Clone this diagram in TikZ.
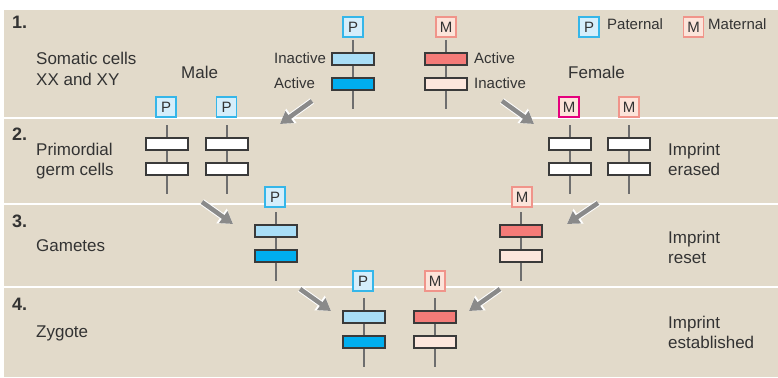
\documentclass[tikz,border=0pt]{standalone}
\usepackage{fontspec}
\setmainfont{Liberation Sans}
\usetikzlibrary{arrows.meta}
\definecolor{bgc}{HTML}{E2DACA}
\definecolor{txt}{HTML}{333333}
\definecolor{pfill}{HTML}{D5EEFB}
\definecolor{pdraw}{HTML}{35B6E9}
\definecolor{mfill}{HTML}{FCE4DA}
\definecolor{mdraw}{HTML}{F0948A}
\definecolor{mmag}{HTML}{E5007D}
\definecolor{lblue}{HTML}{A9DEF7}
\definecolor{dblue}{HTML}{00AEEF}
\definecolor{redb}{HTML}{F47B78}
\definecolor{paleb}{HTML}{FDE7DD}
\definecolor{barline}{HTML}{3A3A3A}
\definecolor{chgray}{HTML}{6E6E6E}
\definecolor{arrgray}{HTML}{8A8A8A}
\newcommand{\chromo}[5]{%
  \coordinate (#1t) at (#2,#3);
  \coordinate (#1b) at (#2,#3+69);
  \draw[chline] (#1t) -- (#1b);
  \node[barbox, fill=#4] (#1u) at (#2,#3+19) {};
  \node[barbox, fill=#5] (#1l) at (#2,#3+44) {};
}
\begin{document}
\begin{tikzpicture}[x=1pt,y=-1pt,
  chline/.style={draw=chgray, line width=2.6pt},
  barbox/.style={draw=barline, line width=1.1pt, minimum width=42pt, minimum height=12pt, inner sep=0pt},
  pbox/.style={draw=pdraw, fill=pfill, line width=1.1pt, minimum size=20pt, inner sep=0pt, text=txt, font=\fontsize{15}{15}\selectfont},
  mbox/.style={pbox, draw=mdraw, fill=mfill},
  lab/.style={anchor=base west, inner sep=0pt, text=txt, font=\fontsize{17}{20}\selectfont},
  slab/.style={anchor=base west, inner sep=0pt, text=txt, font=\fontsize{15}{18}\selectfont},
  num/.style={anchor=base west, inner sep=0pt, text=txt, font=\fontsize{18}{20}\selectfont\bfseries},
  arrw/.style={line width=6.5pt, white, -{Triangle[length=14pt,width=17pt]}},
  arrg/.style={line width=4.5pt, arrgray, -{Triangle[length=12pt,width=14pt]}},
  sep/.style={draw=white, line width=1.5pt}]
\useasboundingbox (0,0) rectangle (778,377);
\fill[white] (0,0) rectangle (778,377);
\fill[bgc] (4,10) rectangle (778,377);
\coordinate (s1l) at (4,118); \coordinate (s1r) at (778,118);
\coordinate (s2l) at (4,204); \coordinate (s2r) at (778,204);
\coordinate (s3l) at (4,287); \coordinate (s3r) at (778,287);
\draw[sep] (s1l) -- (s1r);
\draw[sep] (s2l) -- (s2r);
\draw[sep] (s3l) -- (s3r);

% row numbers and labels
\node[num] (n1) at (12,29) {1.};
\node[num] (n2) at (12,140) {2.};
\node[num] (n3) at (12,227) {3.};
\node[num] (n4) at (12,310) {4.};
\node[lab] (t1a) at (36,65) {Somatic cells};
\node[lab] (t1b) at (36,86) {XX and XY};
\node[lab] (male) at (181,79) {Male};
\node[lab] (female) at (568,79) {Female};
\node[lab] (t2a) at (36,155) {Primordial};
\node[lab] (t2b) at (36,175) {germ cells};
\node[lab] (r2a) at (668,155) {Imprint};
\node[lab] (r2b) at (668,175) {erased};
\node[lab] (t3) at (36,251) {Gametes};
\node[lab] (r3a) at (668,243) {Imprint};
\node[lab] (r3b) at (668,263) {reset};
\node[lab] (t4) at (36,337) {Zygote};
\node[lab] (r4a) at (668,328) {Imprint};
\node[lab] (r4b) at (668,348) {established};

% legend
\node[pbox] (legp) at (589,27) {P};
\node[slab] (legpt) at (607,30) {Paternal};
\node[mbox] (legm) at (693.5,27) {M};
\node[slab] (legmt) at (708,30) {Maternal};

% row 1
\chromo{c1p}{353}{40}{lblue}{dblue}
\chromo{c1m}{446}{40}{redb}{paleb}
\node[pbox] (b1p) at (353,27) {P};
\node[mbox] (b1m) at (446,27) {M};
\node[slab] (inact1) at (274,64) {Inactive};
\node[slab] (act1) at (274,89) {Active};
\node[slab] (act2) at (474,64) {Active};
\node[slab] (inact2) at (474,89) {Inactive};

% row 2
\chromo{c2a}{167}{125}{white}{white}
\chromo{c2b}{227}{125}{white}{white}
\chromo{c2c}{570}{125}{white}{white}
\chromo{c2d}{629}{125}{white}{white}
\node[pbox] (b2a) at (166,107) {P};
\node[pbox] (b2b) at (226.5,107) {P};
\node[mbox, draw=mmag] (b2c) at (569,107) {M};
\node[mbox] (b2d) at (629,107) {M};

% row 3
\chromo{c3p}{276}{212}{lblue}{dblue}
\chromo{c3m}{521}{212}{redb}{paleb}
\node[pbox] (b3p) at (275,197) {P};
\node[mbox] (b3m) at (522,197) {M};

% row 4
\chromo{c4p}{364}{298}{lblue}{dblue}
\chromo{c4m}{435}{298}{redb}{paleb}
\node[pbox] (b4p) at (363,281) {P};
\node[mbox] (b4m) at (435,281) {M};

% arrows
\coordinate (a1s) at (312,101); \coordinate (a1e) at (280,124);
\coordinate (a2s) at (502,101); \coordinate (a2e) at (534,124);
\coordinate (a3s) at (202,202); \coordinate (a3e) at (233,224);
\coordinate (a4s) at (598,203); \coordinate (a4e) at (567,224);
\coordinate (a5s) at (300,289); \coordinate (a5e) at (331,311);
\coordinate (a6s) at (500,289); \coordinate (a6e) at (469,311);
\foreach \i in {1,...,6}{
  \draw[arrw] (a\i s) -- (a\i e);
  \draw[arrg] (a\i s) -- (a\i e);
}
\end{tikzpicture}
\end{document}
